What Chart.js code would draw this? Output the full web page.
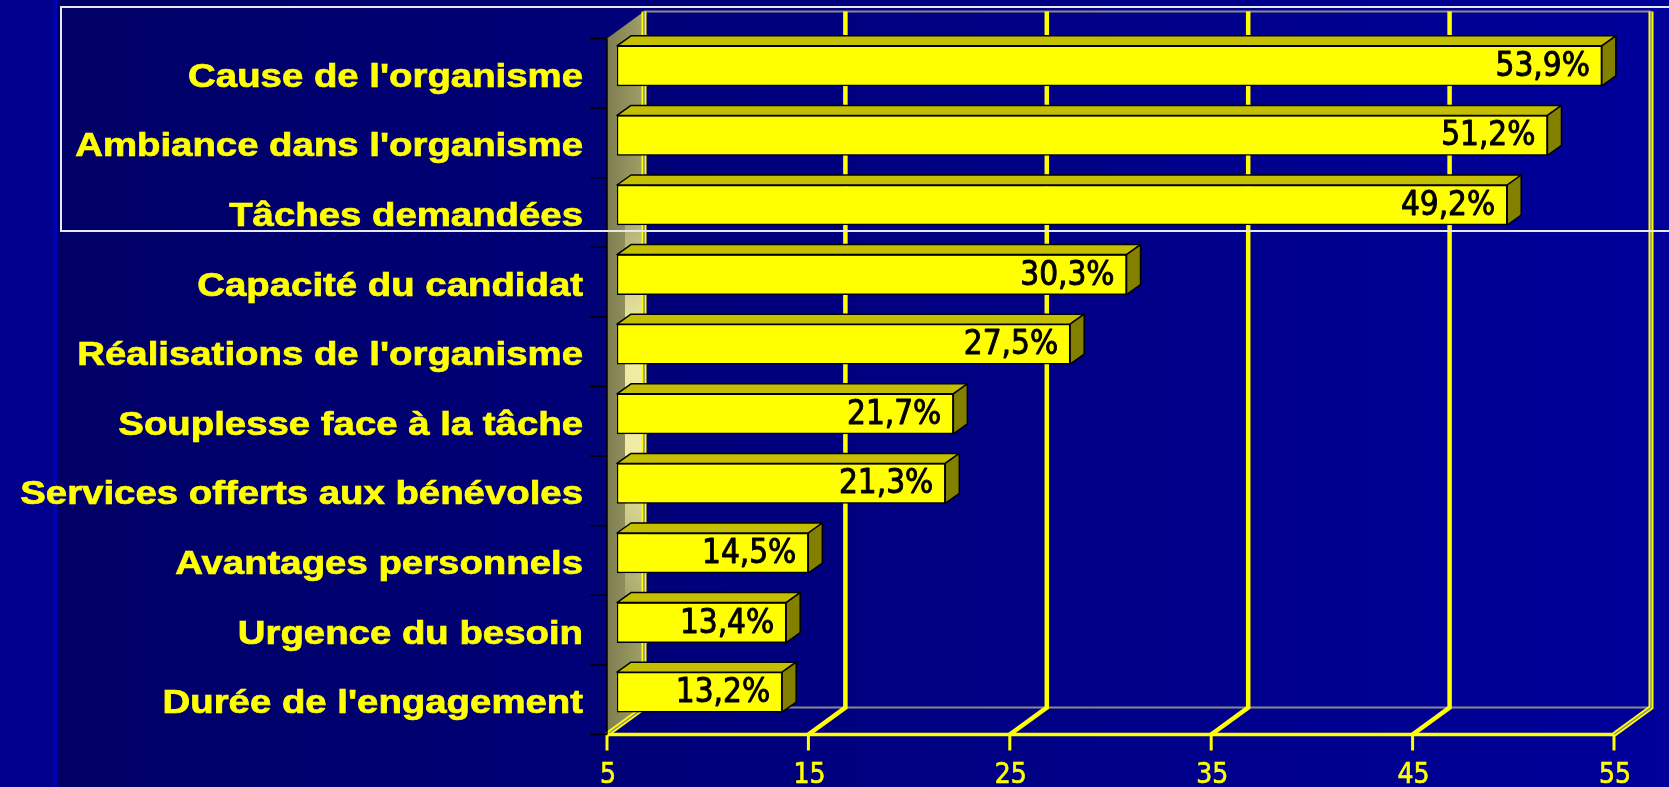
<!DOCTYPE html>
<html>
<head>
<meta charset="utf-8">
<script src="https://cdn.jsdelivr.net/npm/chart.js"></script>
<style>
  html, body { margin: 0; padding: 0; background: #000070; overflow: hidden; }
  canvas { display: block; }
</style>
</head>
<body>
<canvas id="myChart" width="1669" height="787"></canvas>
<script>
var categories = ["Cause de l'organisme", "Ambiance dans l'organisme", "Tâches demandées",
    "Capacité du candidat", "Réalisations de l'organisme", "Souplesse face à la tâche",
    "Services offerts aux bénévoles", "Avantages personnels", "Urgence du besoin",
    "Durée de l'engagement"];
var values = [53.9, 51.2, 49.2, 30.3, 27.5, 21.7, 21.3, 14.5, 13.4, 13.2];
var xTicks = [5, 15, 25, 35, 45, 55];

// 3D depth of the chart box and of the bars
var wallDx = 37, wallDy = 27;
var barDx = 14, barDy = 10;
var frontShiftX = -10, frontShiftY = 7.5;

function fmt(v) { return v.toFixed(1).replace(".", ",") + "%"; }

var backdrop = {
    id: "backdrop",
    beforeDraw: function (chart) {
        var ctx = chart.ctx, W = chart.width, H = chart.height;
        ctx.save();
        var g = ctx.createLinearGradient(60, 0, W, 0);
        g.addColorStop(0, "#000066");
        g.addColorStop(1, "#00009a");
        ctx.fillStyle = g;
        ctx.fillRect(0, 0, W, H);
        ctx.fillStyle = "#00008c";
        ctx.fillRect(0, 0, 53, H);
        ctx.fillStyle = "#0000b4";
        ctx.fillRect(53, 0, 4, H);
        ctx.restore();
    }
};

var box3d = {
    id: "box3d",
    beforeDatasetsDraw: function (chart) {
        var ctx = chart.ctx, xs = chart.scales.x, ys = chart.scales.y, area = chart.chartArea;
        var fy = area.bottom + frontShiftY;        // front floor
        var ty = area.top + frontShiftY;           // front top
        function fx(v) { return xs.getPixelForValue(v) + frontShiftX; }
        var x0 = fx(xTicks[0]), x1 = fx(xTicks[xTicks.length - 1]);
        ctx.save();

        // left wall
        ctx.beginPath();
        ctx.moveTo(x0, ty);
        ctx.lineTo(x0 + wallDx, ty - wallDy);
        ctx.lineTo(x0 + wallDx, fy - wallDy);
        ctx.lineTo(x0, fy);
        ctx.closePath();
        var wg = ctx.createLinearGradient(x0, 0, x0 + wallDx, 0);
        wg.addColorStop(0, "#7e7e50");
        wg.addColorStop(1, "#a0a068");
        ctx.fillStyle = wg;
        ctx.fill();
        ctx.clip();
        var hg = ctx.createLinearGradient(0, 170, 0, 640);
        hg.addColorStop(0, "rgba(255,250,170,0)");
        hg.addColorStop(0.35, "rgba(255,250,175,0.85)");
        hg.addColorStop(0.6, "rgba(255,250,175,0.85)");
        hg.addColorStop(1, "rgba(255,250,170,0)");
        ctx.fillStyle = hg;
        ctx.fillRect(x0 + 18, 0, wallDx - 18, chart.height);
        ctx.restore();
        ctx.save();

        // back box edges (gray)
        ctx.strokeStyle = "#8a8a8a";
        ctx.lineWidth = 2;
        ctx.beginPath();
        ctx.moveTo(x0 + wallDx, fy - wallDy);
        ctx.lineTo(x1 + wallDx, fy - wallDy);
        ctx.moveTo(x0 + wallDx, ty - wallDy);
        ctx.lineTo(x1 + wallDx, ty - wallDy);
        ctx.stroke();

        // double edges at min and max
        [xTicks[0], xTicks[xTicks.length - 1]].forEach(function (v) {
            var x = fx(v);
            ctx.strokeStyle = "#ffff00";
            ctx.lineWidth = 5;
            ctx.beginPath();
            ctx.moveTo(x + wallDx, ty - wallDy);
            ctx.lineTo(x + wallDx, fy - wallDy);
            ctx.lineTo(x, fy);
            ctx.stroke();
            ctx.strokeStyle = "#8a8a8a";
            ctx.lineWidth = 1.5;
            ctx.stroke();
        });

        // grid lines on the back wall and the floor
        ctx.strokeStyle = "#ffff00";
        ctx.lineWidth = 4.5;
        xTicks.slice(1, -1).forEach(function (v) {
            var x = fx(v);
            ctx.beginPath();
            ctx.moveTo(x + wallDx, ty - wallDy);
            ctx.lineTo(x + wallDx, fy - wallDy);
            ctx.lineTo(x, fy);
            ctx.stroke();
        });

        // front floor line, ticks and tick labels
        ctx.lineWidth = 3.5;
        ctx.beginPath();
        ctx.moveTo(x0, fy);
        ctx.lineTo(x1, fy);
        ctx.stroke();
        ctx.fillStyle = "#ffff00";
        ctx.font = "28px 'DejaVu Sans Condensed', 'DejaVu Sans', sans-serif";
        ctx.textAlign = "center";
        ctx.textBaseline = "alphabetic";
        xTicks.forEach(function (v) {
            var x = fx(v);
            ctx.lineWidth = 3;
            ctx.beginPath();
            ctx.moveTo(x, fy);
            ctx.lineTo(x, fy + 16);
            ctx.stroke();
            ctx.fillText(String(v), x + 1, fy + 48);
            ctx.lineWidth = 0.6;
            ctx.strokeText(String(v), x + 1, fy + 48);
        });

        // category ticks on the left edge
        ctx.strokeStyle = "#000000";
        ctx.lineWidth = 1.5;
        var n = categories.length, step = (fy - ty) / n;
        ctx.beginPath();
        for (var i = 0; i <= n; i++) {
            ctx.moveTo(x0 - 17, ty + i * step);
            ctx.lineTo(x0, ty + i * step);
        }
        ctx.moveTo(x0, ty);
        ctx.lineTo(x0, fy);
        ctx.stroke();

        // category labels (the source is stretched horizontally)
        ctx.fillStyle = "#ffff00";
        ctx.strokeStyle = "#ffff00";
        ctx.lineWidth = 0.7;
        ctx.font = "bold 32.5px 'Liberation Sans', Arial, sans-serif";
        ctx.textAlign = "right";
        ctx.textBaseline = "alphabetic";
        categories.forEach(function (c, i) {
            ctx.save();
            ctx.translate(x0 - 24, ys.getPixelForValue(i) + 21);
            ctx.scale(1.18, 1);
            ctx.fillText(c, 0, 0);
            ctx.strokeText(c, 0, 0);
            ctx.restore();
        });
        ctx.restore();
    },
    afterDatasetsDraw: function (chart) {
        var ctx = chart.ctx;
        var meta = chart.getDatasetMeta(0);
        ctx.save();
        ctx.lineJoin = "round";
        meta.data.forEach(function (bar, i) {
            var p = bar.getProps(["x", "y", "base", "height"], true);
            var l = p.base, r = p.x, t = p.y - p.height / 2, b = p.y + p.height / 2;
            ctx.lineWidth = 1.5;
            ctx.strokeStyle = "#000000";
            // top face
            ctx.beginPath();
            ctx.moveTo(l, t);
            ctx.lineTo(l + barDx, t - barDy);
            ctx.lineTo(r + barDx, t - barDy);
            ctx.lineTo(r, t);
            ctx.closePath();
            ctx.fillStyle = "#c4bf00";
            ctx.fill();
            ctx.stroke();
            // side face
            ctx.beginPath();
            ctx.moveTo(r, t);
            ctx.lineTo(r + barDx, t - barDy);
            ctx.lineTo(r + barDx, b - barDy);
            ctx.lineTo(r, b);
            ctx.closePath();
            ctx.fillStyle = "#838000";
            ctx.fill();
            ctx.stroke();
            // value label
            ctx.fillStyle = "#000000";
            ctx.font = "33px 'DejaVu Sans Condensed', 'DejaVu Sans', sans-serif";
            ctx.textAlign = "right";
            ctx.textBaseline = "alphabetic";
            ctx.fillText(fmt(values[i]), r - 12, p.y + 10);
            ctx.lineWidth = 0.9;
            ctx.strokeText(fmt(values[i]), r - 12, p.y + 10);
        });
        ctx.restore();
    },
    afterDraw: function (chart) {
        var ctx = chart.ctx;
        ctx.save();
        ctx.strokeStyle = "#e8e8e8";
        ctx.lineWidth = 2;
        ctx.strokeRect(61, 7, chart.width + 20, 224);
        ctx.restore();
    }
};

new Chart("myChart", {
    type: "bar",
    data: {
        labels: categories,
        datasets: [{
            data: values,
            base: xTicks[0],
            backgroundColor: "#ffff00",
            borderColor: "#000000",
            borderWidth: 1.5,
            borderSkipped: false,
            barThickness: 40
        }]
    },
    options: {
        indexAxis: "y",
        responsive: false,
        animation: false,
        layout: { padding: { top: 31, right: 45, left: 0, bottom: 0 } },
        plugins: {
            legend: { display: false },
            tooltip: { enabled: false }
        },
        scales: {
            x: {
                type: "linear",
                min: xTicks[0],
                max: xTicks[xTicks.length - 1],
                afterBuildTicks: function (s) { s.ticks = xTicks.map(function (v) { return { value: v }; }); },
                afterFit: function (s) { s.height = 60; },
                grid: { display: false, drawTicks: false },
                border: { display: false },
                ticks: { display: false }
            },
            y: {
                afterFit: function (s) { s.width = 617; },
                grid: { display: false, drawTicks: false },
                border: { display: false },
                ticks: { display: false }
            }
        }
    },
    plugins: [backdrop, box3d]
});
</script>
</body>
</html>
